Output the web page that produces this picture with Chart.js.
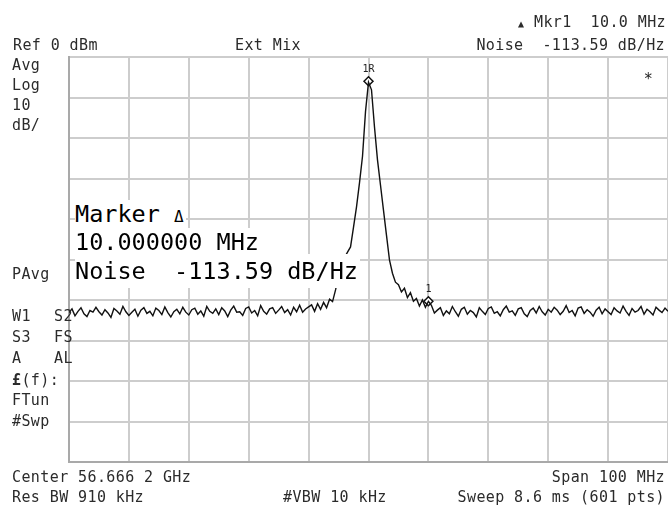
<!DOCTYPE html>
<html>
<head>
<meta charset="utf-8">
<script src="https://cdn.jsdelivr.net/npm/chart.js@4"></script>
<style>
  body { margin: 0; background: #fff; }
  #wrap { position: relative; width: 668px; height: 507px; background: #fff; overflow: hidden; }
  #c { position: absolute; left: 0; top: 0; }
  .t { position: absolute; font: 15px 'DejaVu Sans Mono', monospace; letter-spacing: 0.4px;
       color: #2b2b2b; white-space: pre; line-height: 18px; }
  .big { position: absolute; left: 75px; font: 23.5px 'DejaVu Sans Mono', monospace; color: #000;
         white-space: pre; background: #fff; line-height: 29px; padding-right: 2px; }
</style>
</head>
<body>
<div id="wrap">
  <canvas id="c" width="668" height="507"></canvas>

  <div class="t" style="right:2px;top:13px"><span style="font-size:10px">▲</span> Mkr1  10.0 MHz</div>
  <div class="t" style="left:13px;top:36px">Ref 0 dBm</div>
  <div class="t" style="left:235px;top:36px">Ext Mix</div>
  <div class="t" style="right:3px;top:36px">Noise  -113.59 dB/Hz</div>

  <div class="t" style="left:12px;top:56px">Avg</div>
  <div class="t" style="left:12px;top:76px">Log</div>
  <div class="t" style="left:12px;top:96px">10</div>
  <div class="t" style="left:12px;top:116px">dB/</div>
  <div class="t" style="left:12px;top:265px">PAvg</div>
  <div class="t" style="left:12px;top:307px">W1</div><div class="t" style="left:54px;top:307px">S2</div>
  <div class="t" style="left:12px;top:328px">S3</div><div class="t" style="left:54px;top:328px">FS</div>
  <div class="t" style="left:12px;top:349px">A</div><div class="t" style="left:54px;top:349px">AL</div>
  <div class="t" style="left:12px;top:371px"><b>£</b>(f):</div>
  <div class="t" style="left:12px;top:391px">FTun</div>
  <div class="t" style="left:12px;top:412px">#Swp</div>

  <div class="t" style="left:12px;top:468px">Center 56.666 2 GHz</div>
  <div class="t" style="right:3px;top:468px">Span 100 MHz</div>
  <div class="t" style="left:12px;top:488px">Res BW 910 kHz</div>
  <div class="t" style="left:283px;top:488px">#VBW 10 kHz</div>
  <div class="t" style="right:3px;top:488px">Sweep 8.6 ms (601 pts)</div>

  <div class="big" style="top:200px">Marker <span style="font-size:16px">Δ</span></div>
  <div class="big" style="top:228px">10.000000 MHz</div>
  <div class="big" style="top:254px;padding-top:3px;padding-bottom:2px">Noise  -113.59 dB/Hz</div>
</div>

<script>
// frequency offset from centre, MHz (trace spans 100 MHz, one value every 0.5 MHz)
const startMHz = -50;
const stepMHz = 0.5;

// trace level, dBm (10 dB/div, ref 0 dBm)
const traceDbm = [
  -63.1, -62.2, -63.9, -62.8, -61.9, -63.4, -64.1, -62.6, -63.0, -61.8,
  -62.9, -63.7, -62.4, -63.2, -64.3, -62.1, -62.7, -63.5, -61.6, -62.9,
  -63.8, -63.0, -62.3, -64.0, -62.5, -61.9, -63.3, -62.8, -63.9, -62.0,
  -62.6, -63.6, -61.7, -63.1, -64.2, -62.9, -62.3, -63.4, -61.8, -63.0,
  -63.7, -62.4, -62.0, -63.5, -62.7, -64.0, -61.6, -62.8, -63.3, -62.2,
  -63.6, -61.9, -62.7, -64.1, -62.5, -61.5, -63.0, -62.9, -63.8, -62.1,
  -61.7, -63.2, -62.6, -63.9, -61.4, -62.8, -63.5, -62.2, -61.9, -63.3,
  -62.5, -61.6, -63.1, -62.4, -63.7, -61.8, -62.9, -61.3, -63.0, -62.2,
  -61.7,
  // rising skirt, left of carrier
  -61.2, -62.8, -60.9, -62.3, -60.6, -61.9, -59.8, -60.4, -57.5, -54.0,
  -51.5, -49.5, -48.2, -46.9, -42.0, -37.0, -31.0, -24.5, -13.5,
  // carrier
  -6.2,
  // falling skirt, right of carrier
  -8.1, -17.3, -25.4, -31.6, -37.8, -44.0, -50.1, -53.4, -55.6, -56.2,
  -58.0, -57.1, -59.4, -58.2, -60.3, -59.6, -61.5, -60.0, -61.8, -60.3,
  -61.3, -63.2, -62.5, -61.9, -63.8, -62.7, -63.4, -61.6, -62.9, -64.0,
  -62.3, -61.8, -63.5, -62.6, -63.1, -64.2, -61.9, -62.8, -63.6, -62.1,
  -61.7, -63.3, -62.9, -63.9, -62.4, -61.5, -63.0, -62.7, -63.8, -62.2,
  -61.9, -63.4, -64.1, -62.6, -62.0, -63.2, -61.6, -62.9, -63.7, -62.3,
  -63.0, -61.8, -62.5, -63.6, -62.8, -61.4, -63.1, -62.6, -63.9, -62.0,
  -61.7, -63.3, -62.4, -63.0, -64.0, -62.5, -61.8, -63.4, -62.2, -62.9,
  -63.6, -61.9, -62.7, -63.2, -61.5, -62.8, -63.8, -62.1, -63.0, -62.6,
  -61.6, -63.5, -62.3, -62.9, -63.7, -61.8, -62.5, -63.1, -62.0, -62.8
];

// markers: reference at carrier, marker 1 at +10 MHz
const markerMHz = [0, 10];
const markerDbm = [-6.0, -60.3];
const markerText = ['1R', '1'];

const tracePoints = traceDbm.map((v, i) => ({ x: startMHz + i * stepMHz, y: v }));
const markerPoints = markerMHz.map((f, i) => ({ x: f, y: markerDbm[i] }));

const markerLabels = {
  id: 'markerLabels',
  afterDatasetsDraw(chart) {
    const { ctx, scales } = chart;
    ctx.save();
    ctx.fillStyle = '#222';
    ctx.font = '10px "DejaVu Sans Mono"';
    ctx.textAlign = 'center';
    ctx.textBaseline = 'bottom';
    markerPoints.forEach((p, i) => {
      ctx.fillText(markerText[i], scales.x.getPixelForValue(p.x), scales.y.getPixelForValue(p.y) - 7);
    });
    ctx.font = '15px "DejaVu Sans Mono"';
    ctx.textBaseline = 'middle';
    ctx.fillText('*', scales.x.getPixelForValue(46.7), scales.y.getPixelForValue(-5.8));
    ctx.restore();
  }
};

new Chart(document.getElementById('c'), {
  type: 'line',
  data: {
    datasets: [{
      data: tracePoints,
      borderColor: '#111',
      borderWidth: 1.4,
      pointRadius: 0,
      tension: 0,
      fill: false
    }, {
      data: markerPoints,
      showLine: false,
      pointStyle: 'rectRot',
      pointRadius: 4.5,
      pointBackgroundColor: '#fff',
      pointBorderColor: '#111',
      pointBorderWidth: 1.5
    }]
  },
  options: {
    responsive: false,
    animation: false,
    devicePixelRatio: 1,
    layout: { autoPadding: false, padding: { left: 69, top: 57, right: 0, bottom: 45 } },
    plugins: { legend: { display: false }, tooltip: { enabled: false } },
    scales: {
      x: {
        type: 'linear', min: -50, max: 50,
        ticks: { display: false, stepSize: 10 },
        grid: { color: '#cdcdcd', lineWidth: 2, drawTicks: false },
        border: { color: '#a9a9a9', width: 2 }
      },
      y: {
        min: -100, max: 0,
        ticks: { display: false, stepSize: 10 },
        grid: { color: '#cdcdcd', lineWidth: 2, drawTicks: false },
        border: { color: '#a9a9a9', width: 2 }
      }
    }
  },
  plugins: [markerLabels]
});
</script>
</body>
</html>
